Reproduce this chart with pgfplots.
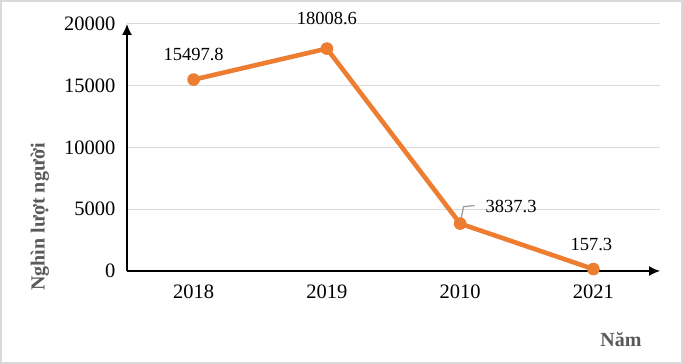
\documentclass[border=0pt]{standalone}
\usepackage{pgfplots}
\pgfplotsset{compat=1.18}
\usetikzlibrary{arrows.meta}
\usepackage{fontspec}
\setmainfont{Liberation Serif}
\definecolor{lineorange}{HTML}{ED7D31}
\definecolor{labgray}{HTML}{595959}
\definecolor{gridgray}{HTML}{D9D9D9}
\begin{document}
\begin{tikzpicture}[x=1pt,y=1pt]
\path[use as bounding box] (0,0) rectangle (683,364);
\draw[gridgray, line width=2pt] (1,1) rectangle (682,363);
\begin{axis}[
  at={(127pt,93pt)}, anchor=south west,
  scale only axis, width=533pt, height=247pt,
  xmin=-0.5, xmax=3.5, ymin=0, ymax=20000,
  axis lines=left,
  axis line style={line width=1.6pt, -{Latex[length=11pt,width=10pt]}},
  xtick={0,1,2,3}, xticklabels={2018,2019,2010,2021},
  ytick={0,5000,10000,15000,20000},
  ymajorgrids, grid style={gridgray, line width=1pt},
  major tick length=0pt,
  tick label style={font=\fontsize{20.5}{24}\selectfont, text=black},
  xticklabel style={yshift=-10pt},
  yticklabel style={xshift=-8pt},
  /pgf/number format/assume math mode=true,
  scaled y ticks=false,
  yticklabel={\pgfmathprintnumber[fixed,1000 sep={}]{\tick}},
  clip=false,
]
\addplot[lineorange, line width=4.6pt, mark=*, mark size=5.8pt, mark options={solid,fill=lineorange,draw=lineorange,line width=1pt}]
 coordinates {(0,15497.8) (1,18008.6) (2,3837.3) (3,157.3)};
\begin{scope}[font=\fontsize{18.5}{22}\selectfont]
\node at (axis cs:0,15497.8) [yshift=25pt] {15497.8};
\node at (axis cs:1,18008.6) [yshift=30pt] {18008.6};
\node at (axis cs:3,157.3) [xshift=-2pt, yshift=25pt] {157.3};
\node[anchor=west] at (axis cs:2,3837.3) [xshift=22pt, yshift=17pt] {3837.3};
\draw[gray!75, line width=1.3pt] (axis cs:2,3837.3) ++(0.5pt,3pt) -- ++(3pt,14pt) -- ++(11pt,1pt);
\end{scope}
\end{axis}
\node[rotate=90, font=\bfseries\fontsize{20}{24}\selectfont, text=labgray] at (40,147) {Nghìn lượt người};
\node[font=\bfseries\fontsize{20}{24}\selectfont, text=labgray] at (621,24) {Năm};
\end{tikzpicture}
\end{document}
